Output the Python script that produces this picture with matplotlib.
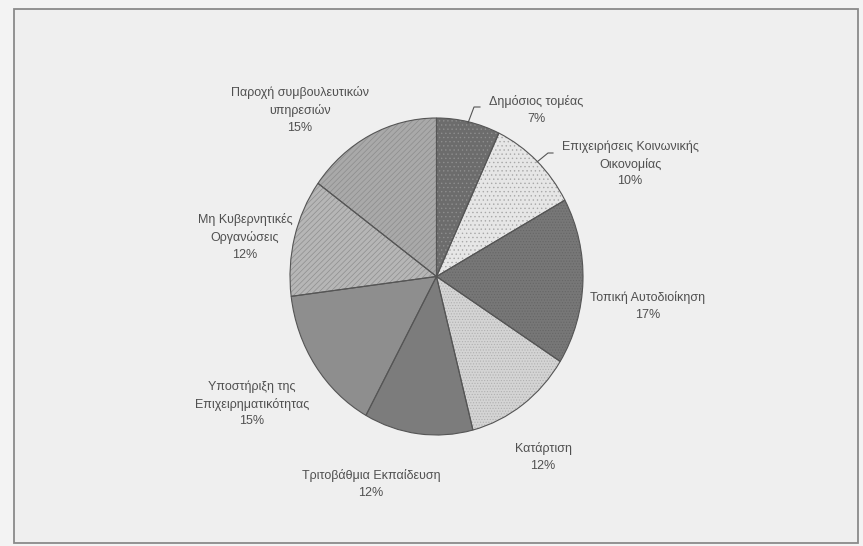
import matplotlib.pyplot as plt
from matplotlib.patches import Rectangle

plt.rcParams['font.family'] = ['Liberation Sans', 'DejaVu Sans']
plt.rcParams['hatch.linewidth'] = 0.5

# data
categories = [
    "Δημόσιος τομέας",
    "Επιχειρήσεις Κοινωνικής\nΟικονομίας",
    "Τοπική Αυτοδιοίκηση",
    "Κατάρτιση",
    "Τριτοβάθμια Εκπαίδευση",
    "Υποστήριξη της\nΕπιχειρηματικότητας",
    "Μη Κυβερνητικές\nΟργανώσεις",
    "Παροχή συμβουλευτικών\nυπηρεσιών",
]
shares = [7, 10, 17, 12, 12, 15, 12, 15]

# styling
face_colors = ['#6c6c6c', '#e6e6e6', '#777777', '#d4d4d4',
               '#7c7c7c', '#8e8e8e', '#b6b6b6', '#a9a9a9']
hatch_colors = ['#8e8e8e', '#a8a8a8', '#666666', '#b0b0b0',
                '#707070', '#848484', '#8e8e8e', '#8c8c8c']
hatches = ['....', '....', '......', '......', '', '', '//////', '//////']
# label centres in pixels (x, y from top)
label_pos = [(536, 110), (630, 164), (648, 306), (543, 457),
             (371, 484), (252, 404), (245, 237), (300, 110)]

W, H = 863, 546
fig = plt.figure(figsize=(W / 100, H / 100), dpi=100)
fig.patch.set_facecolor('#f3f3f3')


def px(x, y):
    return x / W, 1 - y / H


# outer frame (behind the pie axes)
fig.patches.append(Rectangle(px(14, 543), (858 - 14) / W, (543 - 9) / H,
                             transform=fig.transFigure, facecolor='#efefef',
                             edgecolor='#8a8a8a', linewidth=1.3, zorder=-1))

# pie area: centre (436.5, 276.5), radii 146.5 x 158.5 px
cx, cy, rx, ry = 436.5, 276.5, 146.5, 158.5
ax = fig.add_axes([(cx - rx) / W, (H - cy - ry) / H, 2 * rx / W, 2 * ry / H])
ax.patch.set_alpha(0)

wedges, _ = ax.pie(shares, startangle=90, counterclock=False,
                   colors=face_colors, hatch=hatches)
for w, hc in zip(wedges, hatch_colors):
    w.set_edgecolor(hc)
    w.set_linewidth(0)
outline, _ = ax.pie(shares, startangle=90, counterclock=False,
                    colors=['none'] * len(shares),
                    wedgeprops=dict(edgecolor='#555555', linewidth=0.8))
ax.set_aspect('auto')
ax.set_xlim(-1, 1)
ax.set_ylim(-1, 1)
ax.axis('off')

for name, v, (x, y) in zip(categories, shares, label_pos):
    fig.text(*px(x, y), f"{name}\n{v}%", ha='center', va='center',
             fontsize=9, color='#505050', linespacing=1.5)

# leader lines for the two small top slices
fig.add_artist(plt.Line2D([468 / W, 474 / W, 480 / W],
                          [1 - 123 / H, 1 - 107 / H, 1 - 107 / H],
                          color='#555555', linewidth=0.8))
fig.add_artist(plt.Line2D([537 / W, 548 / W, 553 / W],
                          [1 - 162 / H, 1 - 153 / H, 1 - 153 / H],
                          color='#555555', linewidth=0.8))

fig.savefig('out.png', dpi=100, facecolor=fig.get_facecolor())
